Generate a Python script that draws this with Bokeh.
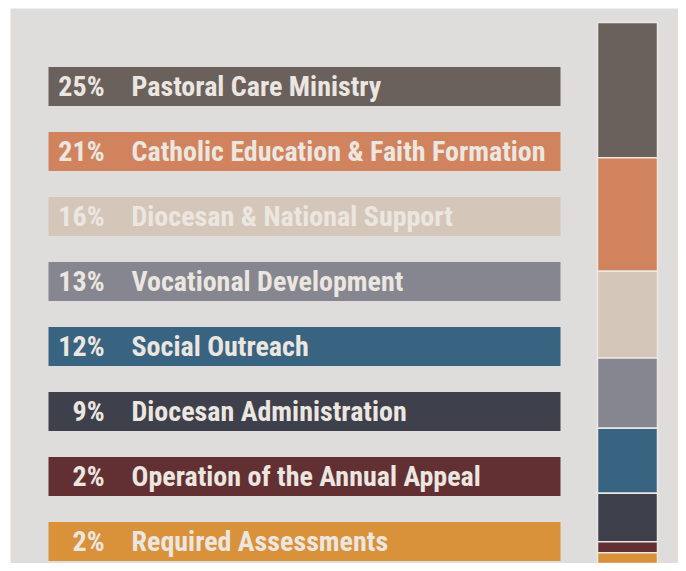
import numpy as np
from bokeh.plotting import figure
from bokeh.models import Range1d, ColumnDataSource
from bokeh.core.properties import value
from bokeh.embed import file_html
from bokeh.resources import INLINE

categories = [
    "Pastoral Care Ministry",
    "Catholic Education & Faith Formation",
    "Diocesan & National Support",
    "Vocational Development",
    "Social Outreach",
    "Diocesan Administration",
    "Operation of the Annual Appeal",
    "Required Assessments",
]
percents = [25, 21, 16, 13, 12, 9, 2, 2]
colors = ["#6a615c", "#d1835e", "#d4c7ba", "#85868f",
          "#386381", "#3e404b", "#623033", "#d9913a"]

W, H = 678, 563
BG = "#dfdddb"
TEXT = "#ece6e0"
FONT = value("Roboto Condensed")

# layout constants (pixels inside the figure)
FRAME_L, FRAME_T = 10, 8
ROW_TOP, ROW_STEP, ROW_H = 86, 65, 39
BAR_L, BAR_R = 48, 560
PCT_X, LBL_X = 104, 131
STACK_L, STACK_R, STACK_T, STACK_B = 597, 657, 22, 563

p = figure(width=W, height=H, output_backend="svg", toolbar_location=None,
           x_range=Range1d(FRAME_L, W), y_range=Range1d(H, FRAME_T),
           min_border_left=FRAME_L, min_border_top=FRAME_T,
           min_border_right=0, min_border_bottom=0,
           background_fill_color=BG, border_fill_color="white",
           outline_line_color=None)
p.axis.visible = False
p.grid.visible = False

# stacked bar in percentage space: 0 at STACK_B, 100 at STACK_T
scale = (STACK_B - STACK_T) / 100.0
p.extra_y_ranges = {"pct": Range1d(-(H - STACK_B) / scale,
                                   100 + (STACK_T - FRAME_T) / scale)}

n = len(categories)
ys = [ROW_TOP + i * ROW_STEP for i in range(n)]
src = ColumnDataSource(dict(
    y=ys, cat=categories, color=colors,
    pct=[f"{v}%" for v in percents],
))
p.hbar(y="y", left=BAR_L, right=BAR_R, height=ROW_H, color="color",
       line_color=None, source=src)
p.text(x=PCT_X, y="y", text="pct", source=src, text_align="right",
       text_baseline="middle", text_color=TEXT, text_font=FONT,
       text_font_size="28px", text_font_style="bold")
p.text(x=LBL_X, y="y", text="cat", source=src, text_align="left",
       text_baseline="middle", text_color=TEXT, text_font=FONT,
       text_font_size="28px", text_font_style="bold")

vals = np.array(percents, dtype=float)
tops = 100 - np.concatenate([[0], np.cumsum(vals)[:-1]])
bottoms = tops - vals
ssrc = ColumnDataSource(dict(top=tops, bottom=bottoms, color=colors))
p.quad(left=STACK_L, right=STACK_R, top="top", bottom="bottom",
       fill_color="color", line_color="#ebe8e4", line_width=1.5,
       y_range_name="pct", source=ssrc)

open("out.html", "w").write(file_html(p, INLINE))
